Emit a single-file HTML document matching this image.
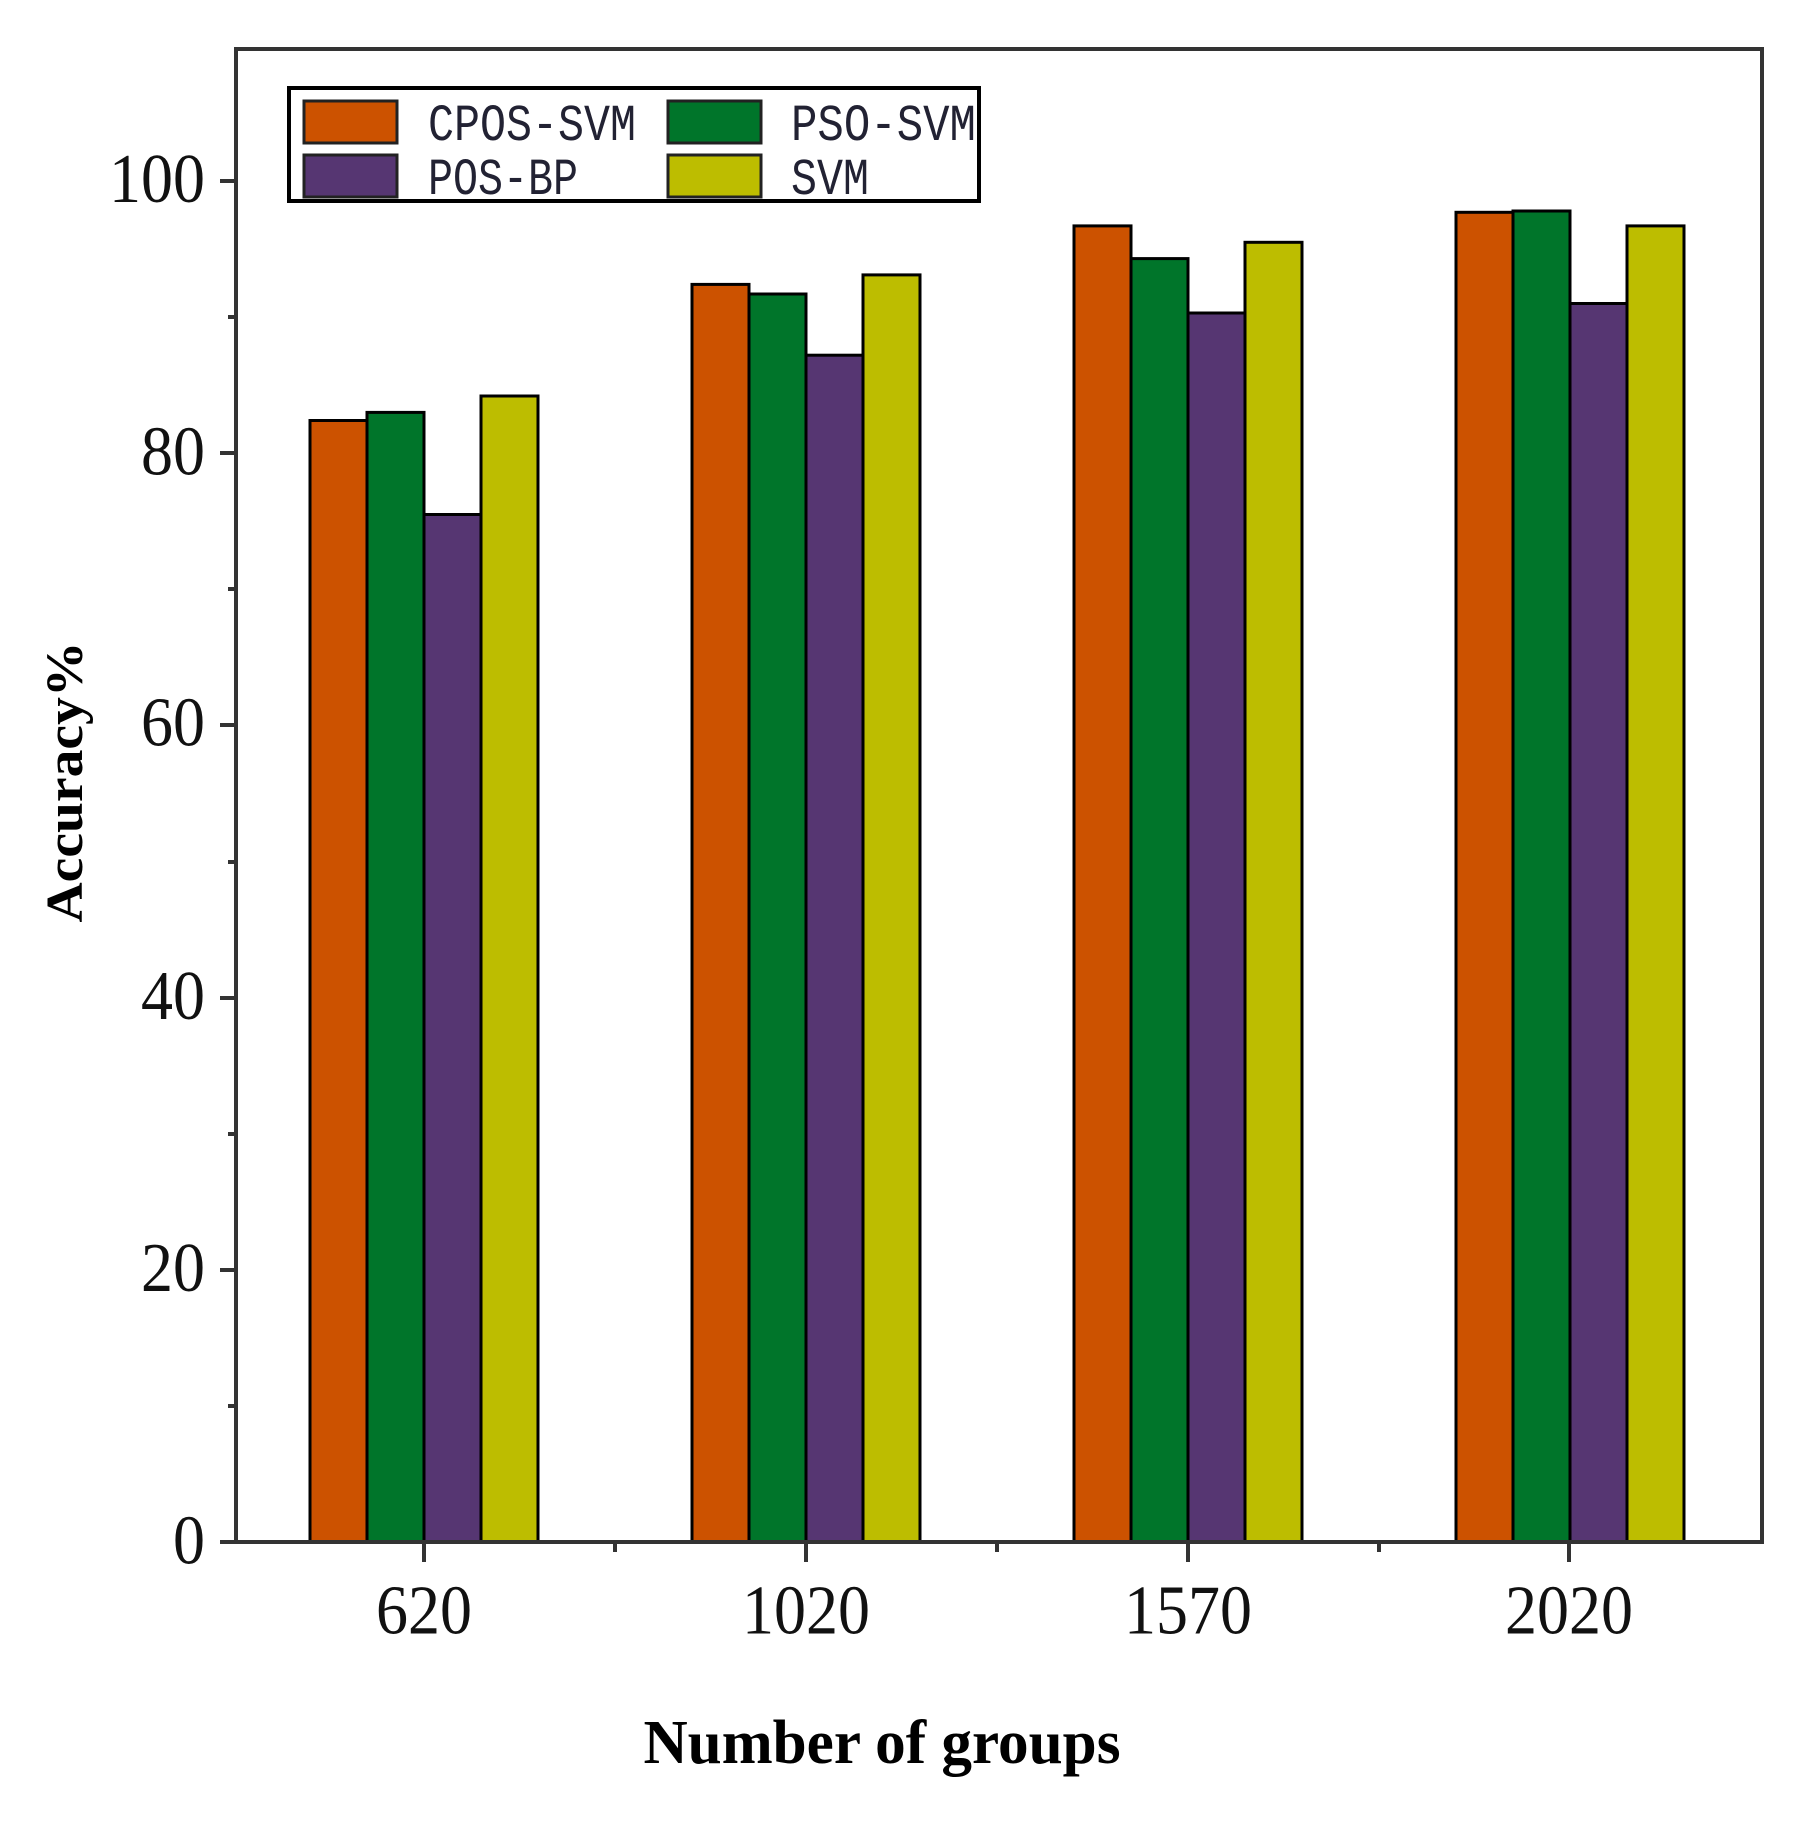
<!DOCTYPE html>
<html><head><meta charset="utf-8"><style>html,body{margin:0;padding:0;background:#fff}svg{display:block}</style></head>
<body>
<svg width="1811" height="1833" viewBox="0 0 1811 1833" xmlns="http://www.w3.org/2000/svg">
<g stroke="#000" stroke-width="3">
<rect x="310" y="420.5" width="57" height="1121.5" fill="#CC5200"/>
<rect x="367" y="412.4" width="57" height="1129.6" fill="#00752A"/>
<rect x="424" y="514.5" width="57" height="1027.5" fill="#563672"/>
<rect x="481" y="396" width="57" height="1146" fill="#BDBD00"/>
<rect x="692" y="284.4" width="57" height="1257.6" fill="#CC5200"/>
<rect x="749" y="294" width="57" height="1248" fill="#00752A"/>
<rect x="806" y="355.2" width="57" height="1186.8" fill="#563672"/>
<rect x="863" y="274.9" width="57" height="1267.1" fill="#BDBD00"/>
<rect x="1074" y="225.9" width="57" height="1316.1" fill="#CC5200"/>
<rect x="1131" y="258.6" width="57" height="1283.4" fill="#00752A"/>
<rect x="1188" y="313" width="57" height="1229" fill="#563672"/>
<rect x="1245" y="242.3" width="57" height="1299.7" fill="#BDBD00"/>
<rect x="1456" y="212.3" width="57" height="1329.7" fill="#CC5200"/>
<rect x="1513" y="211" width="57" height="1331" fill="#00752A"/>
<rect x="1570" y="303.5" width="57" height="1238.5" fill="#563672"/>
<rect x="1627" y="225.9" width="57" height="1316.1" fill="#BDBD00"/>
</g>
<g stroke="#333" stroke-width="4" fill="none">
<rect x="236" y="49" width="1526" height="1493"/>
<path d="M220 1542H236M220 1270H236M220 998H236M220 725H236M220 453H236M220 181H236"/>
<path d="M228 1406H236M228 1134H236M228 862H236M228 589H236M228 317H236"/>
<path d="M424 1542V1562M806 1542V1562M1188 1542V1562M1569 1542V1562"/>
<path d="M615 1542V1552M997 1542V1552M1379 1542V1552"/>
</g>
<g font-family="Liberation Serif, serif" font-size="64" fill="#111" text-anchor="end">
<text x="205" y="1563" transform="translate(0,-156) scale(1,1.1)">0</text>
<text x="205" y="1291" transform="translate(0,-129) scale(1,1.1)">20</text>
<text x="205" y="1019" transform="translate(0,-102) scale(1,1.1)">40</text>
<text x="205" y="746" transform="translate(0,-75) scale(1,1.1)">60</text>
<text x="205" y="474" transform="translate(0,-47) scale(1,1.1)">80</text>
<text x="205" y="202" transform="translate(0,-20) scale(1,1.1)">100</text>
</g>
<g font-family="Liberation Serif, serif" font-size="64" fill="#111" text-anchor="middle">
<text x="424" y="1633" transform="translate(0,-163) scale(1,1.1)">620</text>
<text x="806" y="1633" transform="translate(0,-163) scale(1,1.1)">1020</text>
<text x="1188" y="1633" transform="translate(0,-163) scale(1,1.1)">1570</text>
<text x="1569" y="1633" transform="translate(0,-163) scale(1,1.1)">2020</text>
</g>
<text x="882" y="1763" font-family="Liberation Serif, serif" font-weight="bold" font-size="62" text-anchor="middle" textLength="477" lengthAdjust="spacingAndGlyphs">Number of groups</text>
<text transform="translate(82,782) rotate(-90)" font-family="Liberation Serif, serif" font-weight="bold" font-size="52" text-anchor="middle" textLength="281" lengthAdjust="spacingAndGlyphs">Accuracy%</text>
<rect x="289" y="88" width="690" height="113" fill="#fff" stroke="#000" stroke-width="4"/>
<g stroke="#222" stroke-width="3">
<rect x="304" y="101" width="93" height="42" fill="#CC5200"/>
<rect x="668" y="101" width="93" height="42" fill="#00752A"/>
<rect x="304" y="155" width="93" height="42" fill="#563672"/>
<rect x="668" y="155" width="93" height="42" fill="#BDBD00"/>
</g>
<g font-family="Liberation Mono, monospace" font-size="40" fill="#223">
<text x="428" y="140" transform="translate(0,-42) scale(1,1.3)" textLength="208" lengthAdjust="spacingAndGlyphs">CPOS-SVM</text>
<text x="791" y="140" transform="translate(0,-42) scale(1,1.3)" textLength="185" lengthAdjust="spacingAndGlyphs">PSO-SVM</text>
<text x="428" y="194" transform="translate(0,-58) scale(1,1.3)" textLength="150" lengthAdjust="spacingAndGlyphs">POS-BP</text>
<text x="791" y="194" transform="translate(0,-58) scale(1,1.3)" textLength="78" lengthAdjust="spacingAndGlyphs">SVM</text>
</g>
</svg>
</body></html>
